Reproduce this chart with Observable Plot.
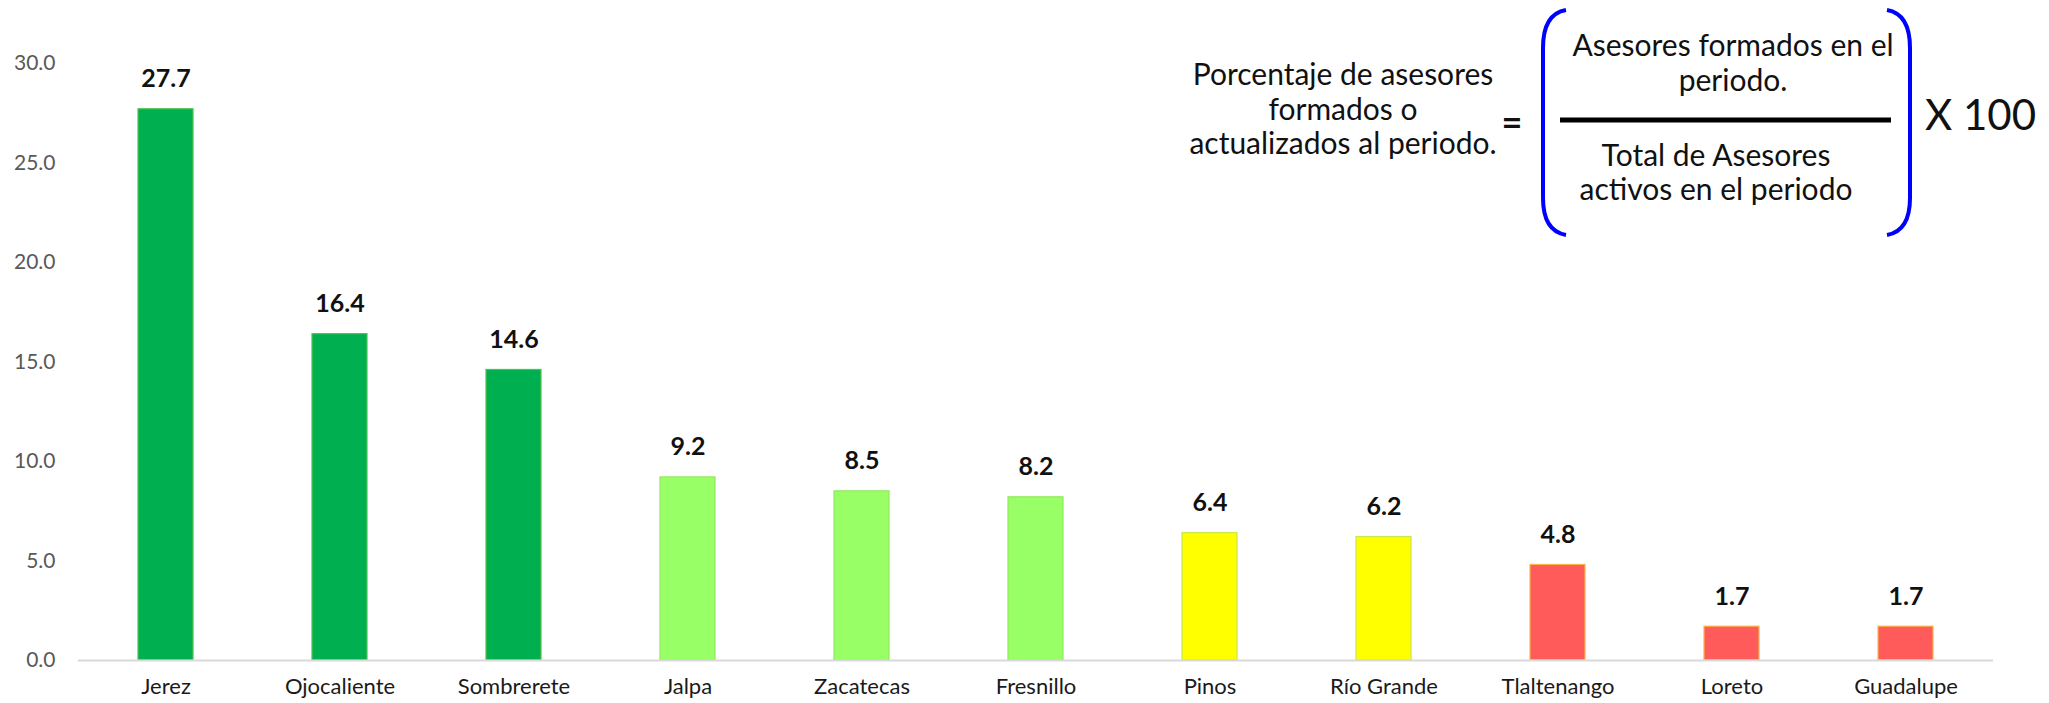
<!DOCTYPE html>
<html><head><meta charset="utf-8">
<script src="https://cdn.jsdelivr.net/npm/d3@7"></script>
<script src="https://cdn.jsdelivr.net/npm/@observablehq/plot@0.6"></script>
<style>
html,body{margin:0;padding:0;background:#fff;}
#chart{position:relative;width:2049px;height:703px;}
</style>
</head><body><div id="chart"></div>
<script>
const municipios = ["Jerez","Ojocaliente","Sombrerete","Jalpa","Zacatecas","Fresnillo","Pinos","Río Grande","Tlaltenango","Loreto","Guadalupe"];
const porcentajes = [27.7,16.4,14.6,9.2,8.5,8.2,6.4,6.2,4.8,1.7,1.7];
const niveles = ["alto","alto","alto","medio","medio","medio","bajo","bajo","crítico","crítico","crítico"];
const nivelDom = ["alto","medio","bajo","crítico"];
const nivelCol = ["#00B050","#99FF66","#FFFF00","#FF5B5B"];
const nivelBorde = ["#4CC24F","#92E85A","#C8E84A","#FFB347"];
const yTicks = [0,5,10,15,20,25,30];

const data = municipios.map((m,i)=>({m, v: porcentajes[i], n: niveles[i]}));
const font = "Lato, 'Open Sans', sans-serif";

const chart = Plot.plot({
  width: 2049, height: 703,
  marginLeft: 78, marginRight: 56, marginTop: 63, marginBottom: 43,
  style: {fontFamily: font, background: "#fff"},
  x: {domain: municipios, paddingInner: 0.684, paddingOuter: 0.342, label: null},
  y: {domain: [0,30], label: null},
  color: {domain: nivelDom, range: nivelCol},
  marks: [
    Plot.barY(data, {x: "m", y: "v", fill: "n", stroke: d => nivelBorde[nivelDom.indexOf(d.n)], strokeWidth: 1.2}),
    Plot.ruleY([0], {stroke: "#D9D9D9", strokeWidth: 2}),
    Plot.axisY({ticks: yTicks, tickSize: 0, tickPadding: 23, tickFormat: d => d.toFixed(1), fontSize: 21, fill: "#595959", label: null}),
    Plot.axisX({tickSize: 0, tickPadding: 18, fontSize: 22, fill: "#1a1a1a", label: null}),
    Plot.text(data, {x: "m", y: "v", text: d => d.v.toFixed(1), dy: -30, fontSize: 25, fontWeight: "bold", fill: "#111"})
  ]
});
document.getElementById("chart").appendChild(chart);

// Formula annotation
const svg = d3.select(chart);
const g = svg.append("g").attr("font-family", font).attr("fill", "#111");
const leftLines = ["Porcentaje de asesores","formados o","actualizados al periodo."];
const leftY = [74, 109, 143];
leftLines.forEach((t,i)=> g.append("text").attr("x",1343).attr("y",leftY[i]).attr("dy","0.35em").attr("text-anchor","middle").attr("font-size",30).text(t));
g.append("text").attr("x",1512).attr("y",122).attr("dy","0.35em").attr("text-anchor","middle").attr("font-size",36).attr("font-weight","bold").text("=");
const numLines = ["Asesores formados en el","periodo."];
const numY = [45, 80];
numLines.forEach((t,i)=> g.append("text").attr("x",1733).attr("y",numY[i]).attr("dy","0.35em").attr("text-anchor","middle").attr("font-size",30).text(t));
const denLines = ["Total de Asesores","activos en el periodo"];
const denY = [155, 189];
denLines.forEach((t,i)=> g.append("text").attr("x",1716).attr("y",denY[i]).attr("dy","0.35em").attr("text-anchor","middle").attr("font-size",30).text(t));
g.append("line").attr("x1",1560).attr("x2",1891).attr("y1",120).attr("y2",120).attr("stroke","#000").attr("stroke-width",5);
g.append("path").attr("d","M1566,10 Q1543,14 1543,48 L1543,198 Q1543,231 1566,235").attr("fill","none").attr("stroke","#0000FF").attr("stroke-width",4);
g.append("path").attr("d","M1887,10 Q1910,14 1910,48 L1910,198 Q1910,231 1887,235").attr("fill","none").attr("stroke","#0000FF").attr("stroke-width",4);
g.append("text").attr("x",1925).attr("y",115).attr("dy","0.35em").attr("text-anchor","start").attr("font-size",42).text("X 100");
</script>
</body></html>
